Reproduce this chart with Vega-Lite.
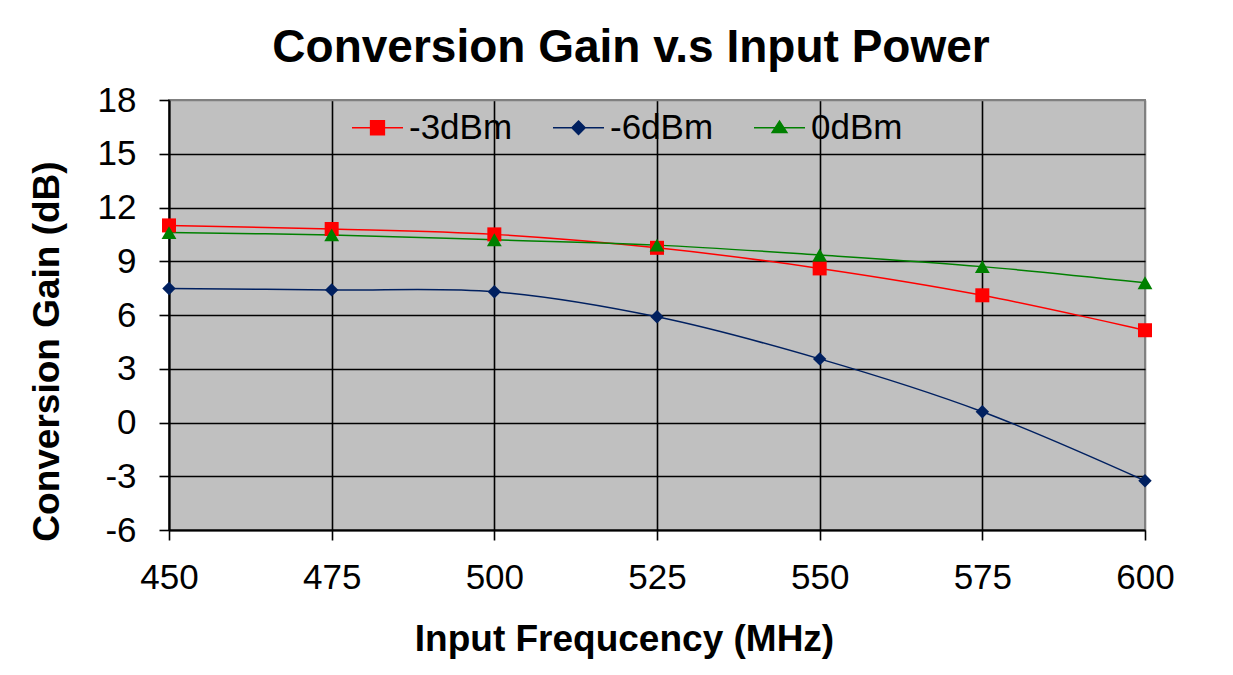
{
  "$schema": "https://vega.github.io/schema/vega-lite/v6.json",
  "width": 976,
  "height": 430,
  "autosize": "none",
  "padding": {"left": 169, "top": 100, "right": 88, "bottom": 145},
  "background": "white",
  "title": {
    "text": "Conversion Gain v.s Input Power",
    "font": "Liberation Sans",
    "fontSize": 46,
    "fontWeight": "bold",
    "color": "black",
    "anchor": "middle",
    "frame": "group",
    "dx": -26,
    "baseline": "alphabetic",
    "offset": -25
  },
  "config": {
    "view": {"fill": "#C0C0C0", "stroke": "#808080", "strokeWidth": 2},
    "axis": {
      "labelFont": "Liberation Sans",
      "labelFontSize": 35,
      "labelColor": "black",
      "labelFlush": false,
      "titleFont": "Liberation Sans",
      "titleFontSize": 37,
      "titleFontWeight": "bold",
      "titleColor": "black",
      "domainColor": "black",
      "domainWidth": 2,
      "tickColor": "black",
      "tickSize": 10,
      "tickWidth": 1.6,
      "gridColor": "black",
      "gridWidth": 1.6,
      "gridOpacity": 1
    },
    "legend": {
      "labelFont": "Liberation Sans",
      "labelFontSize": 35,
      "labelColor": "black",
      "symbolSize": 2600,
      "symbolStrokeWidth": 1.5,
      "labelOffset": 5,
      "columnPadding": 37,
      "padding": 0
    }
  },
  "data": {
    "values": [
      {"series": "-3dBm", "freq": 450, "gain": 11.0},
      {"series": "-3dBm", "freq": 475, "gain": 10.8},
      {"series": "-3dBm", "freq": 500, "gain": 10.5},
      {"series": "-3dBm", "freq": 525, "gain": 9.75},
      {"series": "-3dBm", "freq": 550, "gain": 8.6},
      {"series": "-3dBm", "freq": 575, "gain": 7.1},
      {"series": "-3dBm", "freq": 600, "gain": 5.15},
      {"series": "-6dBm", "freq": 450, "gain": 7.48},
      {"series": "-6dBm", "freq": 475, "gain": 7.4},
      {"series": "-6dBm", "freq": 500, "gain": 7.3},
      {"series": "-6dBm", "freq": 525, "gain": 5.9},
      {"series": "-6dBm", "freq": 550, "gain": 3.55},
      {"series": "-6dBm", "freq": 575, "gain": 0.6},
      {"series": "-6dBm", "freq": 600, "gain": -3.25},
      {"series": "0dBm", "freq": 450, "gain": 10.6},
      {"series": "0dBm", "freq": 475, "gain": 10.47},
      {"series": "0dBm", "freq": 500, "gain": 10.2},
      {"series": "0dBm", "freq": 525, "gain": 9.9},
      {"series": "0dBm", "freq": 550, "gain": 9.35},
      {"series": "0dBm", "freq": 575, "gain": 8.7},
      {"series": "0dBm", "freq": 600, "gain": 7.8}
    ]
  },
  "encoding": {
    "x": {
      "field": "freq",
      "type": "quantitative",
      "scale": {"domain": [450, 600], "nice": false, "zero": false},
      "axis": {
        "title": "Input Frequcency (MHz)",
        "values": [450, 475, 500, 525, 550, 575, 600],
        "labelPadding": 20,
        "labelBaseline": "top",
        "titleX": 455,
        "titleY": 120,
        "titleAlign": "center",
        "titleBaseline": "alphabetic",
        "gridColor": {"condition": {"test": "datum.value === 600", "value": "#808080"}, "value": "black"}
      }
    },
    "y": {
      "field": "gain",
      "type": "quantitative",
      "scale": {"domain": [-6, 18], "nice": false, "zero": false},
      "axis": {
        "title": "Conversion Gain (dB)",
        "values": [-6, -3, 0, 3, 6, 9, 12, 15, 18],
        "labelExpr": "datum.value < 0 ? '-' + abs(datum.value) : '' + datum.value",
        "labelPadding": 23,
        "titleX": -111,
        "titleY": 251,
        "titleAngle": 270,
        "titleAlign": "center",
        "titleBaseline": "alphabetic",
        "gridColor": {"condition": {"test": "datum.value === 18", "value": "#808080"}, "value": "black"}
      }
    }
  },
  "layer": [
    {
      "mark": {"type": "line", "interpolate": "cardinal", "strokeWidth": 1.5},
      "encoding": {
        "color": {
          "field": "series",
          "type": "nominal",
          "scale": {"domain": ["-3dBm", "-6dBm", "0dBm"], "range": ["#FF0000", "#002060", "#008000"]},
          "legend": {
            "title": null,
            "orient": "none",
            "direction": "horizontal",
            "legendX": 182,
            "legendY": 1,
            "encode": {
              "symbols": {
                "update": {
                  "shape": {"signal": "datum.value === '-3dBm' ? 'M-1,0H1M-0.27,-0.27H0.27V0.27H-0.27Z' : datum.value === '-6dBm' ? 'M-1,0H1M0,-0.26L0.26,0L0,0.26L-0.26,0Z' : 'M-1,0H1M0,-0.26L0.29,0.19L-0.29,0.19Z'"},
                  "fill": {"scale": "color", "field": "value"},
                  "stroke": {"scale": "color", "field": "value"},
                  "strokeWidth": {"value": 1.5},
                  "opacity": {"value": 1}
                }
              }
            }
          }
        }
      }
    },
    {
      "transform": [{"filter": "datum.series === '-3dBm'"}],
      "mark": {"type": "point", "filled": true, "opacity": 1, "size": 196, "shape": "square", "color": "#FF0000"}
    },
    {
      "transform": [{"filter": "datum.series === '-6dBm'"}],
      "mark": {"type": "point", "filled": true, "opacity": 1, "size": 180, "shape": "diamond", "color": "#002060"}
    },
    {
      "transform": [{"filter": "datum.series === '0dBm'"}],
      "mark": {"type": "point", "filled": true, "opacity": 1, "size": 220, "shape": "triangle-up", "color": "#008000"}
    }
  ]
}
